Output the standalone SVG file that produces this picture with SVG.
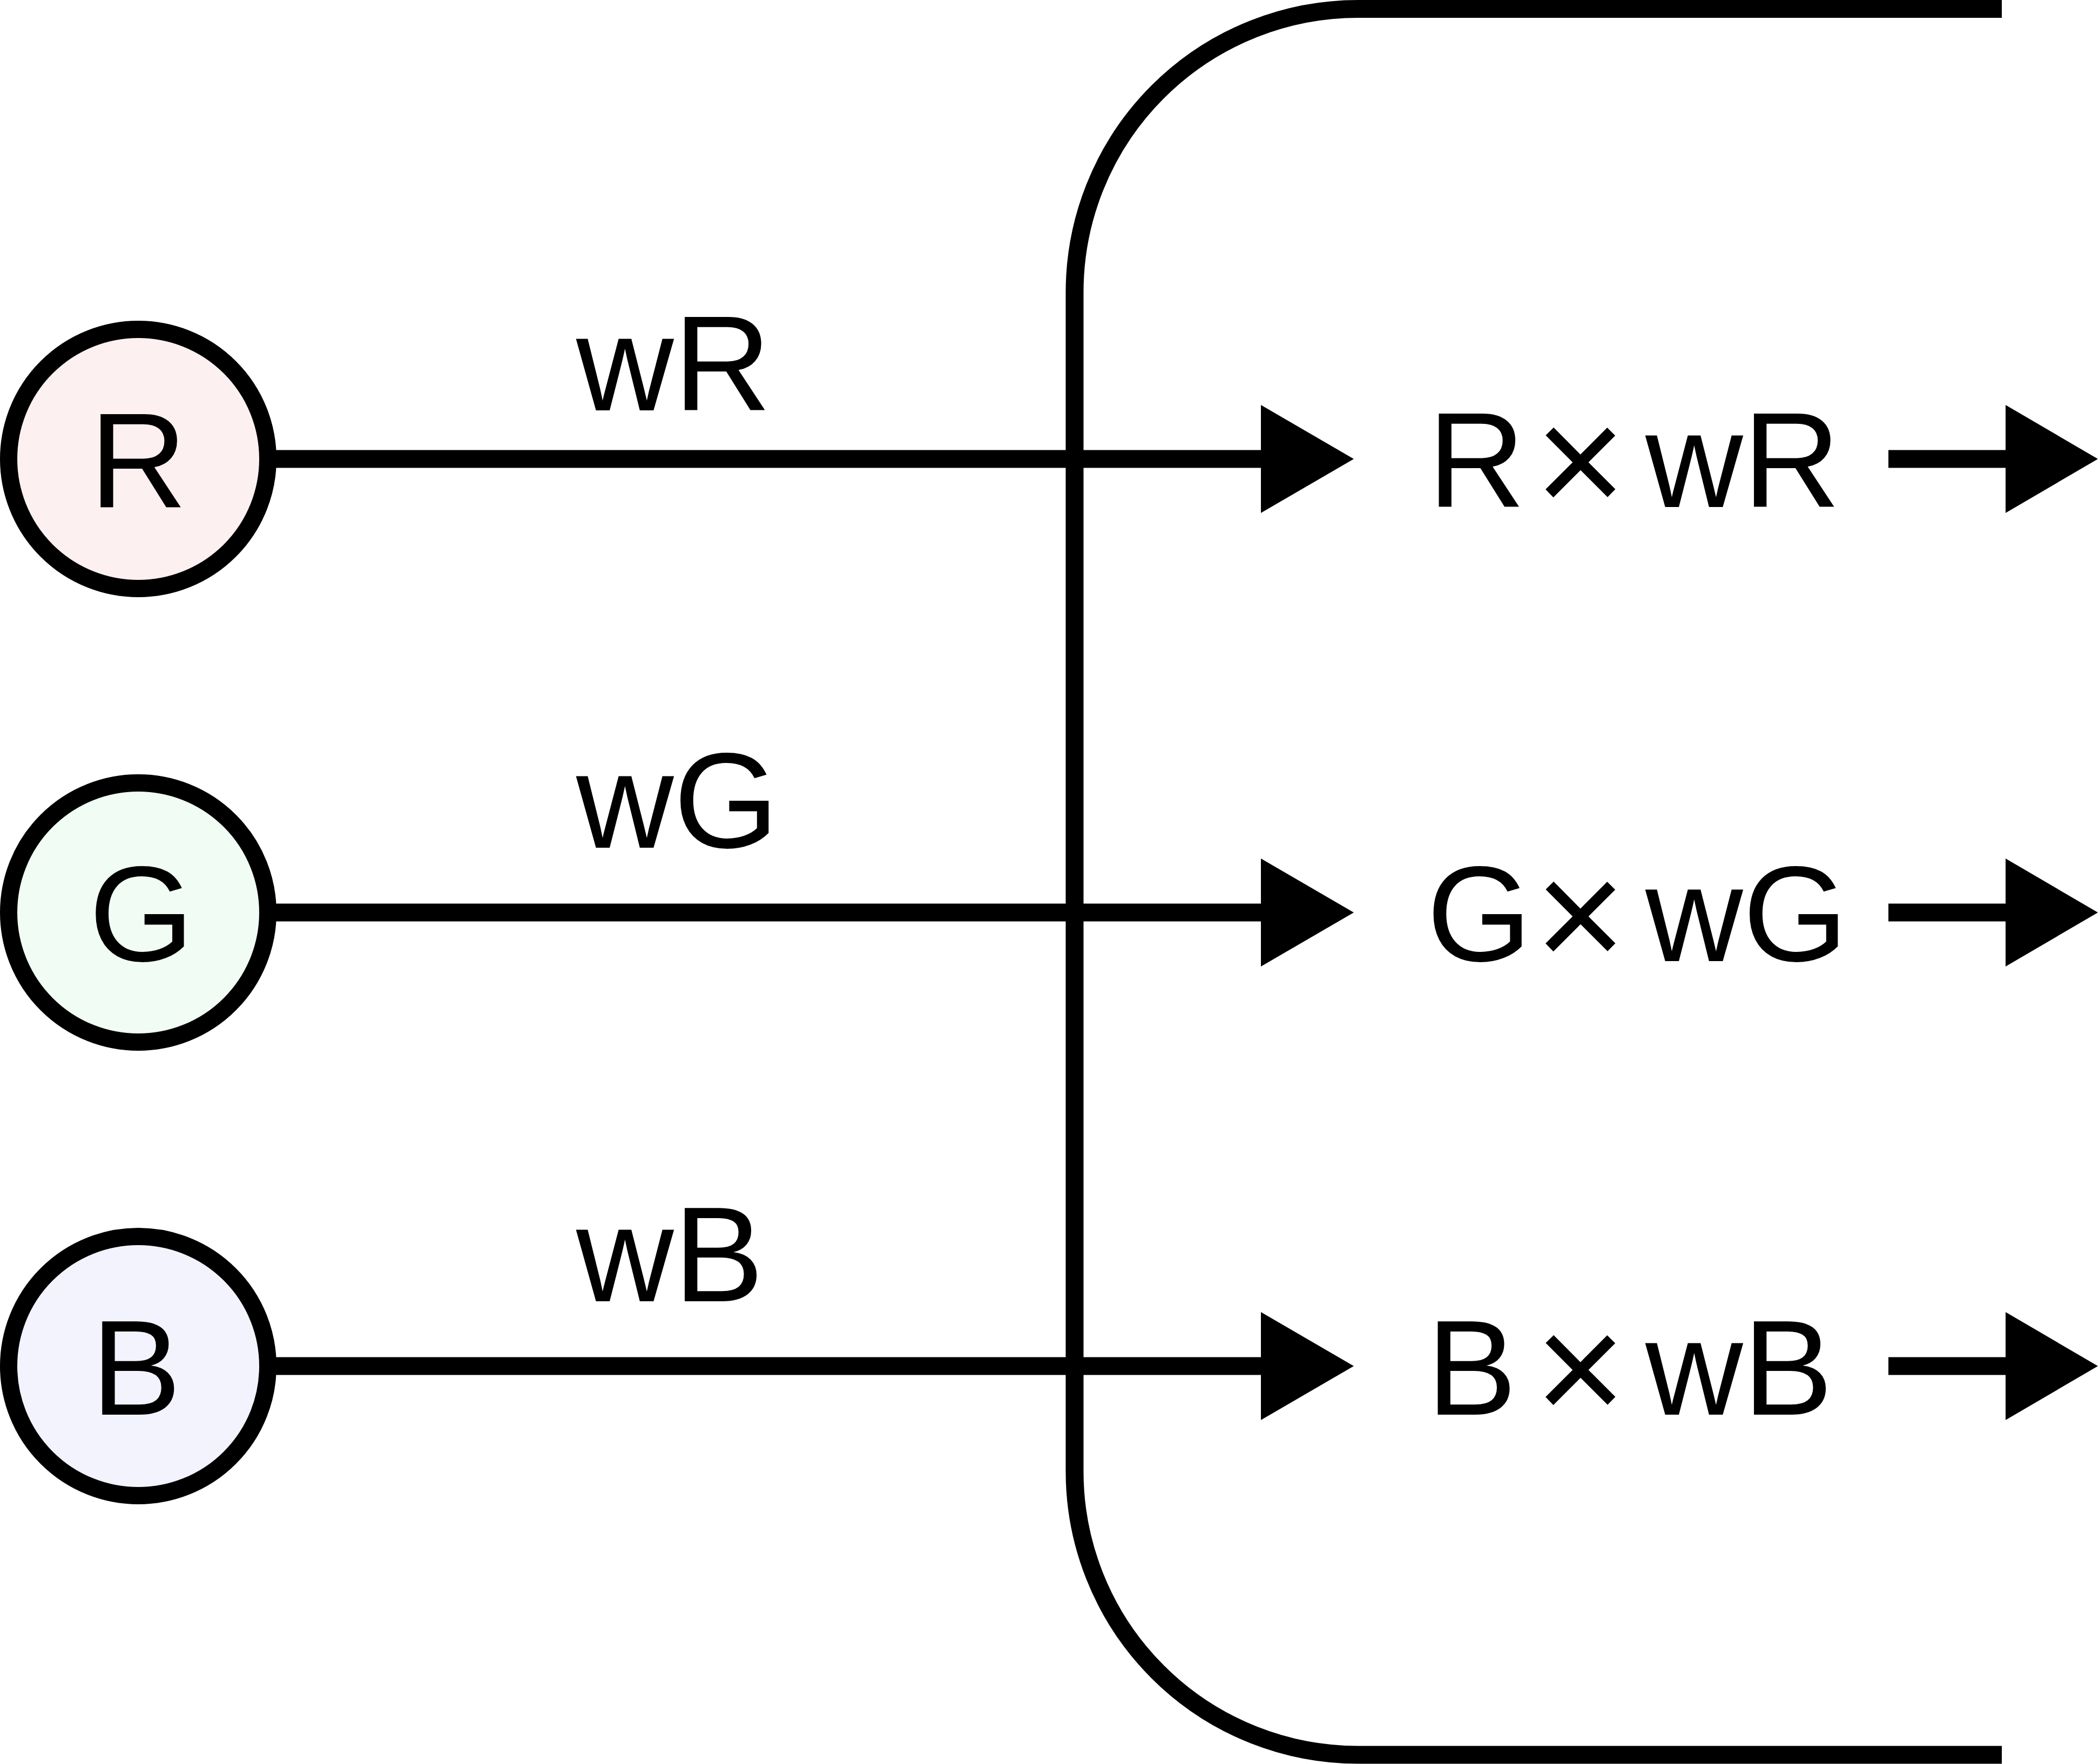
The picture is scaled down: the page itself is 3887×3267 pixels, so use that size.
<svg xmlns="http://www.w3.org/2000/svg" width="3887" height="3267" viewBox="0 0 3887 3267">
<style>
.node{stroke:#000;stroke-width:32}
.t{font-family:"Liberation Sans",Arial,Helvetica,sans-serif;font-size:250px;fill:#000}
.x{font-size:290px}
.ln{stroke:#000;stroke-width:33;fill:none}
.ah{fill:#000}
</style>
<rect width="3887" height="3267" fill="#fff"/>
<g id="connectors">
<path class="ln" d="M3707,16.5 H2515 A525,525 0 0 0 1990,541.5 V2725 A525,525 0 0 0 2515,3250 H3707"/>
<line class="ln" x1="496" y1="850" x2="2340" y2="850"/>
<line class="ln" x1="496" y1="1690" x2="2340" y2="1690"/>
<line class="ln" x1="496" y1="2530" x2="2340" y2="2530"/>
<polygon class="ah" points="2335,750 2507,850 2335,950"/>
<polygon class="ah" points="2335,1590 2507,1690 2335,1790"/>
<polygon class="ah" points="2335,2430 2507,2530 2335,2630"/>
<line class="ln" x1="3497" y1="850" x2="3720" y2="850"/>
<line class="ln" x1="3497" y1="1690" x2="3720" y2="1690"/>
<line class="ln" x1="3497" y1="2530" x2="3720" y2="2530"/>
<polygon class="ah" points="3714,750 3885,850 3714,950"/>
<polygon class="ah" points="3714,1590 3885,1690 3714,1790"/>
<polygon class="ah" points="3714,2430 3885,2530 3714,2630"/>
<text class="t" x="1067" y="760">wR</text>
<text class="t" x="1067" y="1570">wG</text>
<text class="t" x="1067" y="2410">wB</text>
</g>
<g id="node-R">
<circle class="node" cx="256" cy="850" r="240" fill="#fdf0f0"/>
<text class="t" x="256" y="940" text-anchor="middle">R</text>
</g>
<g id="node-G">
<circle class="node" cx="256" cy="1690" r="240" fill="#f1fcf4"/>
<text class="t" x="262" y="1780" text-anchor="middle">G</text>
</g>
<g id="node-B">
<circle class="node" cx="256" cy="2530" r="240" fill="#f2f3fd"/>
<text class="t" x="252" y="2620" text-anchor="middle">B</text>
</g>
<g id="out-R">
<text class="t" y="939"><tspan x="2644">R</tspan><tspan class="x" x="2842" dy="14">×</tspan><tspan x="3047" dy="-14">wR</tspan></text>
</g>
<g id="out-G">
<text class="t" y="1780"><tspan x="2642">G</tspan><tspan class="x" x="2842" dy="14">×</tspan><tspan x="3047" dy="-14">wG</tspan></text>
</g>
<g id="out-B">
<text class="t" y="2620"><tspan x="2642">B</tspan><tspan class="x" x="2842" dy="14">×</tspan><tspan x="3047" dy="-14">wB</tspan></text>
</g>
</svg>
